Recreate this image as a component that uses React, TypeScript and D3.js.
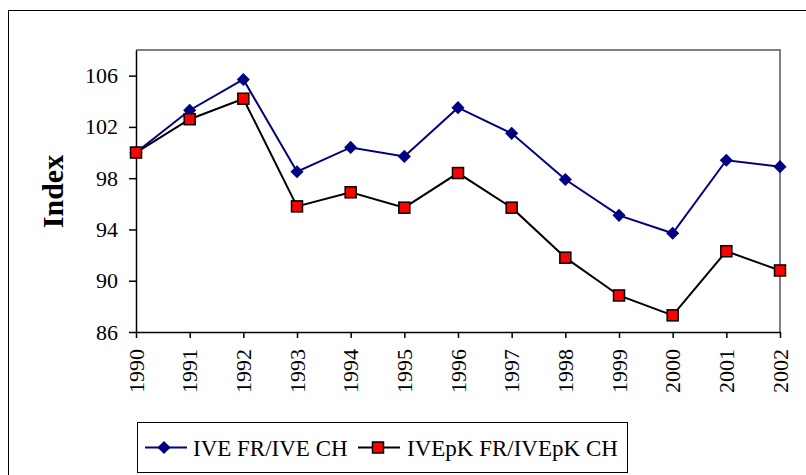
import { useEffect, useRef } from "react";
import * as d3 from "d3";

const years = [1990, 1991, 1992, 1993, 1994, 1995, 1996, 1997, 1998, 1999, 2000, 2001, 2002];
const iveValues = [100.0, 103.3, 105.7, 98.5, 100.4, 99.7, 103.5, 101.5, 97.9, 95.1, 93.7, 99.4, 98.9];
const ivepkValues = [100.0, 102.6, 104.2, 95.8, 96.9, 95.7, 98.4, 95.7, 91.8, 88.85, 87.3, 92.3, 90.8];
const yTicks = [86, 90, 94, 98, 102, 106];
const seriesNames = ["IVE FR/IVE CH", "IVEpK FR/IVEpK CH"];

const FONT = "'Liberation Serif', 'Times New Roman', serif";

export default function App() {
  const ref = useRef<SVGSVGElement | null>(null);

  useEffect(() => {
    const node = ref.current;
    if (!node) return;
    const svg = d3.select(node);
    svg.selectAll("*").remove();

    const width = 806;
    const height = 475;
    const left = 136;
    const right = 780;
    const top = 50;
    const bottom = 332;

    const blue = "#000080";
    const red = "#ff0000";

    svg.append("rect").attr("width", width).attr("height", height).attr("fill", "#fff");

    // outer chart frame (runs off the right/bottom edge)
    svg
      .append("rect")
      .attr("x", 8.5)
      .attr("y", 10.5)
      .attr("width", 820)
      .attr("height", 480)
      .attr("fill", "none")
      .attr("stroke", "#000")
      .attr("stroke-width", 1);

    const x = d3.scaleLinear().domain([1990, 2002]).range([left, right]);
    const y = d3.scaleLinear().domain([86, 108]).range([bottom, top]);

    // plot area border (gray top/right)
    svg
      .append("path")
      .attr("d", `M${left},${top}H${right}V${bottom}`)
      .attr("fill", "none")
      .attr("stroke", "#808080")
      .attr("stroke-width", 2);

    const yAxis = svg
      .append("g")
      .attr("transform", `translate(${left},0)`)
      .call(d3.axisLeft(y).tickValues(yTicks).tickSize(7).tickSizeOuter(0).tickPadding(11));
    yAxis.select(".domain").attr("stroke", "#000").attr("stroke-width", 1.5);
    yAxis.selectAll("line").attr("stroke", "#000").attr("stroke-width", 1.5);
    yAxis.selectAll("text").attr("font-family", FONT).attr("font-size", 22).attr("fill", "#000");

    const xAxis = svg
      .append("g")
      .attr("transform", `translate(0,${bottom})`)
      .call(d3.axisBottom(x).tickValues(years).tickFormat(d3.format("d")).tickSize(6).tickSizeOuter(0));
    xAxis.select(".domain").attr("stroke", "#000").attr("stroke-width", 1.5);
    xAxis.selectAll("line").attr("stroke", "#000").attr("stroke-width", 1.5);
    xAxis
      .selectAll("text")
      .attr("font-family", FONT)
      .attr("font-size", 22)
      .attr("fill", "#000")
      .attr("transform", "rotate(-90)")
      .attr("x", -17)
      .attr("y", 0)
      .attr("dy", "0.33em")
      .style("text-anchor", "end");

    svg
      .append("text")
      .attr("transform", `translate(63,191.5) rotate(-90)`)
      .attr("text-anchor", "middle")
      .attr("font-family", FONT)
      .attr("font-weight", "bold")
      .attr("font-size", 30)
      .text("Index");

    const line = d3
      .line<number>()
      .x((_d, i) => x(years[i]))
      .y((d) => y(d));

    const diamond = d3.symbol().type(d3.symbolDiamond2).size(110);

    svg
      .append("path")
      .attr("d", line(iveValues) ?? "")
      .attr("fill", "none")
      .attr("stroke", blue)
      .attr("stroke-width", 2);
    svg
      .append("g")
      .selectAll("path")
      .data(iveValues)
      .join("path")
      .attr("transform", (d, i) => `translate(${x(years[i])},${y(d)})`)
      .attr("d", diamond() ?? "")
      .attr("fill", blue);

    svg
      .append("path")
      .attr("d", line(ivepkValues) ?? "")
      .attr("fill", "none")
      .attr("stroke", "#000")
      .attr("stroke-width", 2);
    svg
      .append("g")
      .selectAll("rect")
      .data(ivepkValues)
      .join("rect")
      .attr("x", (_d, i) => x(years[i]) - 5.5)
      .attr("y", (d) => y(d) - 5.5)
      .attr("width", 11)
      .attr("height", 11)
      .attr("fill", red)
      .attr("stroke", "#000")
      .attr("stroke-width", 1.5);

    // legend
    const legend = svg.append("g");
    legend
      .append("rect")
      .attr("x", 137.5)
      .attr("y", 422.5)
      .attr("width", 490)
      .attr("height", 50)
      .attr("fill", "#fff")
      .attr("stroke", "#000")
      .attr("stroke-width", 1);
    const ly = 447.5;
    legend.append("line").attr("x1", 145).attr("x2", 187).attr("y1", ly).attr("y2", ly).attr("stroke", blue).attr("stroke-width", 2);
    legend.append("path").attr("transform", `translate(164,${ly})`).attr("d", diamond() ?? "").attr("fill", blue);
    legend
      .append("text")
      .attr("x", 193)
      .attr("y", ly)
      .attr("dy", "0.35em")
      .attr("font-family", FONT)
      .attr("font-size", 23)
      .text(seriesNames[0]);
    legend.append("line").attr("x1", 358).attr("x2", 400).attr("y1", ly).attr("y2", ly).attr("stroke", "#000").attr("stroke-width", 2);
    legend
      .append("rect")
      .attr("x", 378 - 5.5)
      .attr("y", ly - 5.5)
      .attr("width", 11)
      .attr("height", 11)
      .attr("fill", red)
      .attr("stroke", "#000")
      .attr("stroke-width", 1.5);
    legend
      .append("text")
      .attr("x", 407)
      .attr("y", ly)
      .attr("dy", "0.35em")
      .attr("font-family", FONT)
      .attr("font-size", 23)
      .text(seriesNames[1]);
  }, []);

  return (
    <svg
      ref={ref}
      width={806}
      height={475}
      style={{ position: "fixed", left: 0, top: 0, display: "block" }}
    />
  );
}
